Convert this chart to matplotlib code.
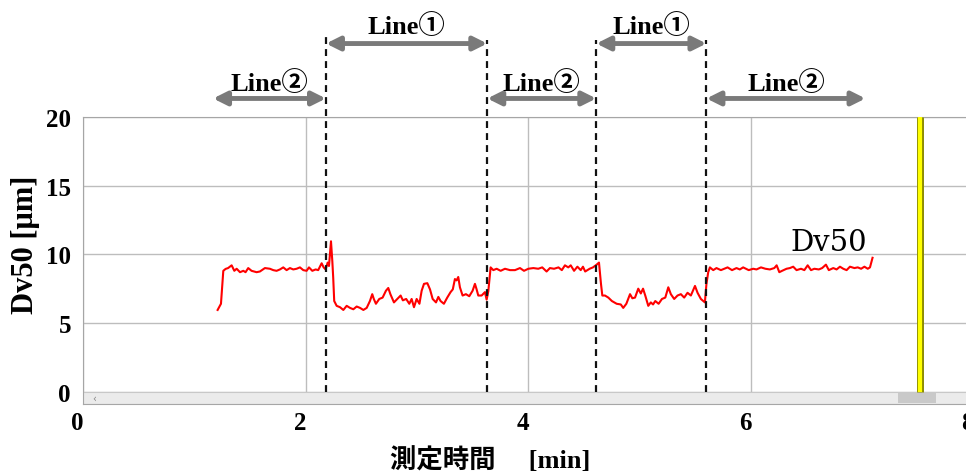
import matplotlib.pyplot as plt
from matplotlib.patches import Rectangle
import matplotlib.transforms as mtransforms

# Dv50 trace (time in min, Dv50 in um)
t = [1.206, 1.236, 1.257, 1.278, 1.30, 1.332, 1.356, 1.377, 1.407, 1.437, 1.457, 1.481, 1.511, 1.556, 1.586,
     1.631, 1.676, 1.706, 1.736, 1.766, 1.796, 1.826, 1.856, 1.886, 1.916, 1.946, 1.976, 2.006, 2.027, 2.057,
     2.087, 2.11, 2.141, 2.159, 2.177, 2.195, 2.207, 2.225, 2.237, 2.245, 2.254, 2.276, 2.306, 2.336, 2.366,
     2.396, 2.426, 2.456, 2.486, 2.516, 2.546, 2.575, 2.596,
     2.61, 2.629, 2.659, 2.689, 2.719, 2.740, 2.759, 2.791, 2.821, 2.851, 2.871, 2.901, 2.929, 2.950, 2.971,
     2.995, 3.02, 3.04, 3.061, 3.091, 3.115, 3.139, 3.169, 3.19, 3.21, 3.24, 3.27, 3.30, 3.32, 3.339, 3.354,
     3.369, 3.384, 3.408, 3.438, 3.468, 3.498, 3.519, 3.534, 3.549, 3.579, 3.609, 3.624, 3.639, 3.660, 3.684,
     3.714, 3.75, 3.789, 3.834, 3.879, 3.924, 3.96, 3.999, 4.044,
     4.088, 4.124, 4.163, 4.193, 4.23, 4.27, 4.30, 4.328, 4.358, 4.38, 4.41, 4.44, 4.47, 4.49, 4.51, 4.55,
     4.58, 4.613, 4.634, 4.652, 4.664, 4.688, 4.718, 4.75, 4.793, 4.83, 4.852, 4.88, 4.913, 4.934, 4.958,
     4.987, 5.01, 5.03, 5.05, 5.077, 5.10, 5.12, 5.14, 5.17, 5.20, 5.23, 5.257, 5.28, 5.31, 5.34, 5.37, 5.40,
     5.43, 5.46, 5.497, 5.52, 5.55, 5.586,
     5.60, 5.616, 5.631, 5.661, 5.69, 5.73, 5.76, 5.79, 5.83, 5.87, 5.90, 5.93, 5.98, 6.02, 6.05, 6.09, 6.13,
     6.17, 6.21, 6.231, 6.255, 6.28, 6.32, 6.35, 6.38, 6.41, 6.45, 6.48, 6.51, 6.54, 6.57, 6.61, 6.64, 6.674,
     6.70, 6.74, 6.77, 6.80, 6.83, 6.86, 6.89, 6.93, 6.96, 6.99, 7.02, 7.05, 7.07, 7.093]
dv50 = [5.95, 6.4, 8.8, 8.94, 9.0, 9.2, 8.8, 8.95, 8.7, 8.8, 8.7, 9.0, 8.8, 8.7, 8.75,
        9.0, 8.95, 8.85, 8.8, 8.9, 9.05, 8.85, 9.0, 8.9, 8.95, 9.05, 8.85, 8.8, 9.05, 8.8,
        8.9, 8.85, 9.35, 9.05, 8.9, 9.4, 9.15, 10.95, 9.5, 8.3, 6.6, 6.25, 6.15, 5.95, 6.25,
        6.1, 6.0, 6.2, 6.1, 5.95, 6.1, 6.6, 7.1,
        6.75, 6.4, 6.75, 6.85, 7.35, 7.55, 7.1, 6.5, 6.75, 7.0, 6.65, 6.75, 6.4, 6.75, 6.15,
        6.75, 6.4, 7.35, 7.85, 7.9, 7.45, 6.75, 6.5, 6.9, 6.6, 6.4, 6.85, 7.25, 7.45, 8.2, 8.1,
        8.35, 7.6, 7.0, 7.1, 6.95, 7.35, 7.85, 7.45, 7.0, 7.0, 7.25, 6.7, 7.3, 9.05, 8.85,
        8.95, 8.8, 8.95, 8.85, 8.85, 9.0, 8.8, 8.95, 9.0,
        8.95, 9.05, 8.75, 9.0, 8.95, 9.05, 8.85, 9.2, 9.05, 9.2, 8.8, 9.1, 8.85, 9.1, 8.75, 8.95,
        9.05, 9.25, 9.4, 7.85, 7.0, 7.0, 6.85, 6.6, 6.4, 6.35, 6.1, 6.4, 7.1, 6.8, 6.85,
        7.5, 7.15, 7.5, 7.0, 6.25, 6.5, 6.35, 6.6, 6.4, 6.75, 6.85, 7.6, 7.1, 6.75, 7.0, 7.1, 6.85,
        7.2, 7.0, 7.7, 7.2, 6.75, 6.5,
        7.85, 8.7, 9.05, 8.85, 9.0, 8.85, 8.95, 9.05, 8.85, 9.0, 8.9, 9.05, 8.85, 8.95, 8.9, 9.05, 8.95,
        8.9, 9.0, 9.2, 8.7, 8.8, 8.95, 9.0, 9.1, 8.85, 8.95, 8.85, 9.2, 8.85, 8.95, 8.9, 9.0, 9.25,
        8.85, 9.0, 8.9, 9.1, 8.95, 8.85, 9.1, 9.0, 9.05, 8.95, 9.1, 8.95, 9.05, 9.75]

# line switch times (dashed) and the segments shown with arrows
switch_t = [2.18, 3.63, 4.61, 5.60]
seg_labels = ["Line②", "Line①", "Line②", "Line①", "Line②"]
seg_start = [1.165, 2.18, 3.63, 4.61, 5.60]
seg_end = [2.18, 3.63, 4.61, 5.60, 7.03]
cursor_t = 7.52

serif = ['Liberation Serif', 'Noto Sans CJK JP']

fig = plt.figure(figsize=(9.66, 4.77), dpi=100)
ax = fig.add_axes([0.0864, 0.1509, 0.9213, 0.6017])

ax.plot(t, dv50, c='red', lw=1.5, zorder=4)

ax.set_xlim(0, 8)
ax.set_ylim(-0.9, 20)
ax.set_xticks([0, 2, 4, 6, 8])
ax.set_yticks([0, 5, 10, 15, 20])
ax.grid(True, color='#bdbdbd', lw=1)
ax.set_axisbelow(True)
ax.tick_params(length=0, labelsize=18)
ax.tick_params(axis='y', pad=9)
ax.tick_params(axis='x', pad=5)
shift = mtransforms.ScaledTranslation(-6 / 100, 0, fig.dpi_scale_trans)
for lab in ax.get_xticklabels():
    lab.set_transform(lab.get_transform() + shift)
for lab in ax.get_xticklabels() + ax.get_yticklabels():
    lab.set_family(serif)
    lab.set_fontweight('bold')
for s in ax.spines.values():
    s.set_color('#a6a6a6')

# scrollbar strip at the bottom
trans = mtransforms.blended_transform_factory(ax.transData, ax.transAxes)
ax.add_patch(Rectangle((0, 0), 1, 0.042, transform=ax.transAxes, fc='#ebebeb', ec='#c8c8c8', lw=0.8, zorder=2))
ax.add_patch(Rectangle((7.32, 0.002), 0.34, 0.038, transform=trans, fc='#c9c9c9', ec='none', zorder=3))
ax.text(0.01, 0.021, '‹', transform=ax.transAxes, fontsize=7, color='#888888', va='center', zorder=3)

# cursor line
ax.plot([cursor_t, cursor_t], [0, 20], c='#8a8a00', lw=5, solid_capstyle='butt', zorder=5)
ax.plot([cursor_t, cursor_t], [0, 20], c='#ffff00', lw=3, solid_capstyle='butt', zorder=6)

# dashed switch lines, running up above the plot
tops = [26.1, 25.6, 25.6, 25.6]
for x, top in zip(switch_t, tops):
    ax.plot([x, x], [0, top], c='#111111', lw=1.6, ls=(0, (3.1, 2.3)), clip_on=False, zorder=6)

# segment arrows + labels
for lab, x0, x1 in zip(seg_labels, seg_start, seg_end):
    y = 25.35 if lab == "Line①" else 21.35
    ty = 26.1 if lab == "Line①" else 21.95
    ax.annotate('', xy=(x0, y), xytext=(x1, y), annotation_clip=False,
                arrowprops=dict(arrowstyle='<|-|>', color='#7a7a7a', lw=3.5, mutation_scale=20,
                                shrinkA=0, shrinkB=0))
    ax.text((x0 + x1) / 2, ty, lab, ha='center', va='baseline', fontsize=19, fontweight='bold',
            family=serif, clip_on=False)

ax.text(6.7, 9.9, 'Dv50', fontsize=21, family='DejaVu Serif', ha='center', va='bottom')

fig.text(25 / 966, 1 - 245 / 477, 'Dv50 [μm]', rotation=90, ha='center', va='center',
         fontsize=22, fontweight='bold', family=serif)
fig.text(490 / 966, 1 - 460 / 477, '測定時間     [min]', ha='center', va='center',
         fontsize=19, fontweight='bold', family=serif)

fig.savefig('out.png', dpi=100)
